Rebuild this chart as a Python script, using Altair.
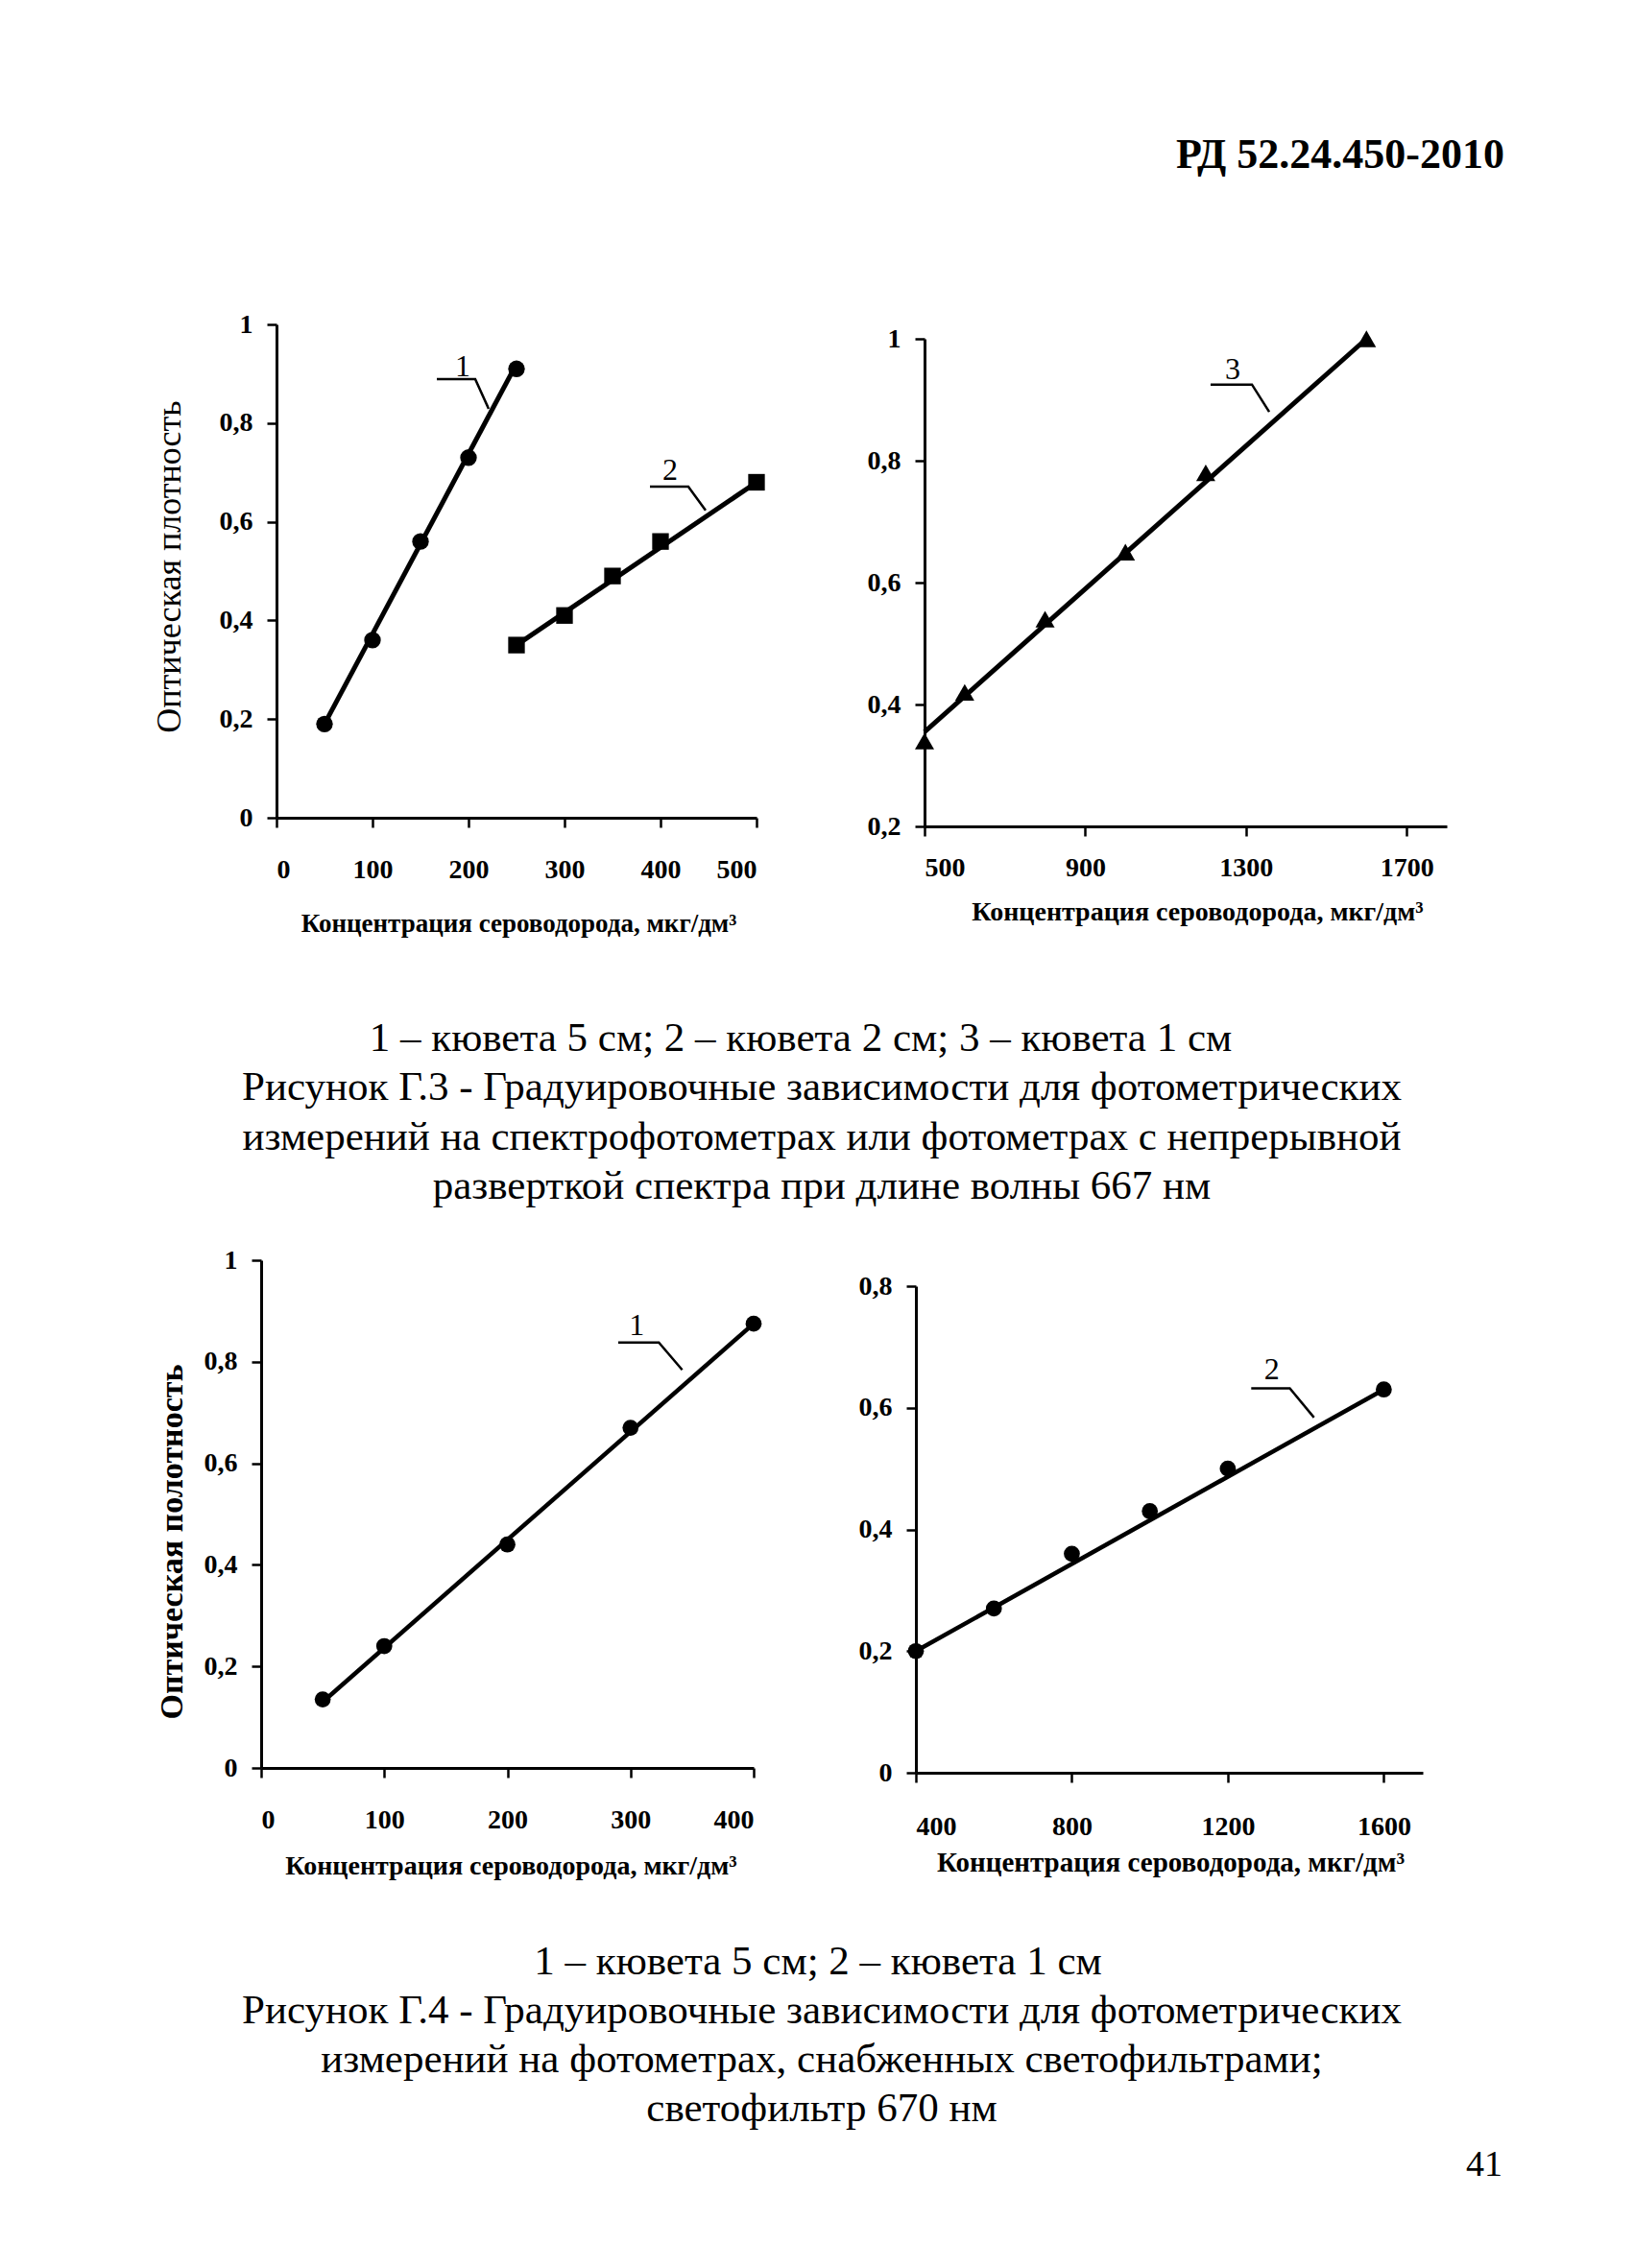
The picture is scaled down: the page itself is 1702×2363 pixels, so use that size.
import altair as alt
import pandas as pd

# ---------------- data ----------------
header_text = ["РД 52.24.450-2010"]
caption1 = [
    "1 – кювета 5 см; 2 – кювета 2 см; 3 – кювета 1 см",
    "Рисунок Г.3 - Градуировочные зависимости для фотометрических",
    "измерений на спектрофотометрах  или фотометрах с непрерывной",
    "разверткой спектра при длине волны 667 нм",
]
caption2 = [
    "1 – кювета 5 см; 2 – кювета 1 см",
    "Рисунок Г.4 - Градуировочные зависимости для фотометрических",
    "измерений на фотометрах, снабженных светофильтрами;",
    "светофильтр 670 нм",
]
page_number = ["41"]

x_title = "Концентрация сероводорода, мкг/дм³"
y_title_top = "Оптическая плотность"
y_title_bottom = "Оптическая полотность"

# top-left (Fig. G.3), curves 1 and 2
tl1_x = [50, 100, 150, 200, 250]
tl1_y = [0.19, 0.36, 0.56, 0.73, 0.91]
tl1_line_x = [50, 250]
tl1_line_y = [0.19, 0.92]
tl2_x = [250, 300, 350, 400, 500]
tl2_y = [0.35, 0.41, 0.49, 0.56, 0.68]
tl2_line_x = [250, 500]
tl2_line_y = [0.35, 0.68]
tl_lab = ["1", "2"]
tl_lab_x = [194, 410]
tl_lab_y = [0.915, 0.705]
tl_lead_g = [0, 0, 0, 1, 1, 1]
tl_lead_x = [167, 207, 221, 389, 429, 447]
tl_lead_y = [0.889, 0.889, 0.829, 0.671, 0.671, 0.623]

# top-right (Fig. G.3), curve 3
tr_x = [500, 600, 800, 1000, 1200, 1600]
tr_y = [0.34, 0.42, 0.54, 0.65, 0.78, 1.0]
tr_line_x = [500, 1600]
tr_line_y = [0.355, 1.0]
tr_lab = ["3"]
tr_lab_x = [1267]
tr_lab_y = [0.950]
tr_lead_x = [1212, 1315, 1358]
tr_lead_y = [0.925, 0.925, 0.880]

# bottom-left (Fig. G.4), curve 1
bl_x = [50, 100, 200, 300, 400]
bl_y = [0.135, 0.24, 0.44, 0.67, 0.875]
bl_line_x = [50, 400]
bl_line_y = [0.13, 0.875]
bl_lab = ["1"]
bl_lab_x = [305]
bl_lab_y = [0.872]
bl_lead_x = [290, 323, 342]
bl_lead_y = [0.838, 0.838, 0.784]

# bottom-right (Fig. G.4), curve 2
br_x = [400, 600, 800, 1000, 1200, 1600]
br_y = [0.20, 0.27, 0.36, 0.43, 0.50, 0.63]
br_line_x = [400, 1600]
br_line_y = [0.20, 0.63]
br_lab = ["2"]
br_lab_x = [1313]
br_lab_y = [0.662]
br_lead_x = [1260, 1359, 1421]
br_lead_y = [0.632, 0.632, 0.584]

FONT = "Liberation Serif"
LABEL_EXPR = "replace(datum.label, '.', ',')"

# column widths and row heights of the page grid
C0, C1, C2, C3 = 263, 516, 166, 553
RA, RB, RC, RD, RE = 329, 523, 452, 534, 470


def spacer(w, h):
    return (
        alt.Chart(pd.DataFrame({"s": [0]}))
        .mark_point(opacity=0)
        .encode(x=alt.value(w / 2), y=alt.value(h / 2))
        .properties(width=w, height=h)
    )


def panel(series, lines, lab, lab_x, lab_y, lead_x, lead_y, lead_g,
          xdom, xticks, ydom, yticks, w, h, xr, yr,
          x_title_x, x_title_y, x_lab_pad,
          y_title, y_title_x, y_title_y, y_title_size, y_title_weight,
          x_title_size, line_w):
    X = alt.X(
        "x:Q",
        scale=alt.Scale(domain=xdom, nice=False, zero=False, range=xr),
        axis=alt.Axis(
            values=xticks, format="d", title=x_title,
            titleX=x_title_x, titleY=x_title_y, titleBaseline="middle",
            titleAlign="center", titleFontSize=x_title_size,
            titleFontWeight="bold", labelPadding=x_lab_pad,
            offset=yr[0] - h,
        ),
    )
    Y = alt.Y(
        "y:Q",
        scale=alt.Scale(domain=ydom, nice=False, zero=False, range=yr),
        axis=alt.Axis(
            values=yticks, format=".1~f", labelExpr=LABEL_EXPR,
            title=y_title, titleX=y_title_x, titleY=y_title_y,
            titleAngle=270, titleBaseline="middle", titleAlign="center",
            titleFontSize=y_title_size, titleFontWeight=y_title_weight,
            labelPadding=15, offset=-xr[0],
        ),
    )
    layers = []
    for lx, ly in lines:
        layers.append(
            alt.Chart(pd.DataFrame({"x": lx, "y": ly}))
            .mark_line(color="black", strokeWidth=line_w)
            .encode(x=X, y=Y)
        )
    for sx, sy, shape, size in series:
        layers.append(
            alt.Chart(pd.DataFrame({"x": sx, "y": sy}))
            .mark_point(shape=shape, size=size, filled=True, color="black", opacity=1)
            .encode(x=X, y=Y)
        )
    layers.append(
        alt.Chart(pd.DataFrame({"x": lead_x, "y": lead_y, "g": lead_g,
                                "o": list(range(len(lead_x)))}))
        .mark_line(color="black", strokeWidth=2.5)
        .encode(x=X, y=Y, detail="g:N", order="o:Q")
    )
    layers.append(
        alt.Chart(pd.DataFrame({"x": lab_x, "y": lab_y, "t": lab}))
        .mark_text(font=FONT, fontSize=32, color="black", baseline="middle")
        .encode(x=X, y=Y, text="t:N")
    )
    return alt.layer(*layers).properties(width=w, height=h)


tl = panel(
    [(tl1_x, tl1_y, "circle", 300), (tl2_x, tl2_y, "square", 300)],
    [(tl1_line_x, tl1_line_y), (tl2_line_x, tl2_line_y)],
    tl_lab, tl_lab_x, tl_lab_y, tl_lead_x, tl_lead_y, tl_lead_g,
    [0, 500], [0, 100, 200, 300, 400, 500], [0, 1], [0, 0.2, 0.4, 0.6, 0.8, 1.0],
    C1, RB, [16, 516], [514, 0], 268, 110, 30,
    y_title_top, -112, 252, 36, "normal", 27, 5,
)
tr = panel(
    [(tr_x, tr_y, "triangle-up", 400)],
    [(tr_line_x, tr_line_y)],
    tr_lab, tr_lab_x, tr_lab_y, tr_lead_x, tr_lead_y, [0, 0, 0],
    [500, 1800], [500, 900, 1300, 1700], [0.2, 1], [0.2, 0.4, 0.6, 0.8, 1.0],
    C3, RB, [9, 553], [523, 15], 293, 89, 19,
    "", 0, 0, 30, "normal", 28, 5,
)
bl = panel(
    [(bl_x, bl_y, "circle", 280)],
    [(bl_line_x, bl_line_y)],
    bl_lab, bl_lab_x, bl_lab_y, bl_lead_x, bl_lead_y, [0, 0, 0],
    [0, 400], [0, 100, 200, 300, 400], [0, 1], [0, 0.2, 0.4, 0.6, 0.8, 1.0],
    C1, RD, [0, 513], [529, 0], 260, 102, 30,
    y_title_bottom, -93, 293, 34, "bold", 28, 4.5,
)
br = panel(
    [(br_x, br_y, "circle", 280)],
    [(br_line_x, br_line_y)],
    br_lab, br_lab_x, br_lab_y, br_lead_x, br_lead_y, [0, 0, 0],
    [400, 1700], [400, 800, 1200, 1600], [0, 0.8], [0, 0.2, 0.4, 0.6, 0.8],
    C3, RD, [0, 528], [534, 27], 265, 93, 32,
    "", 0, 0, 30, "normal", 29, 4.5,
)

CAP_SIZE = 43

header = (
    alt.Chart(pd.DataFrame({"t": header_text}))
    .mark_text(font=FONT, fontSize=44, fontWeight="bold", align="right",
               baseline="middle", color="black")
    .encode(x=alt.value(1558), y=alt.value(153), text="t:N")
    .properties(width=C0, height=RA)
)


def caption_layer(lines, y0, y1, xs):
    return (
        alt.Chart(pd.DataFrame({"t": lines, "i": list(range(len(lines))), "cx": xs}))
        .mark_text(font=FONT, fontSize=CAP_SIZE, align="center", baseline="middle",
                   color="black")
        .encode(
            x=alt.X("cx:Q", scale=alt.Scale(domain=[0, 1000], range=[0, 1000]), axis=None),
            y=alt.Y("i:Q", scale=alt.Scale(domain=[0, len(lines) - 1], range=[y0, y1]),
                    axis=None),
            text="t:N",
        )
    )


cap1 = caption_layer(caption1, 221, 375, [825, 847, 847, 847]).properties(width=C0, height=RC)
pnum = (
    alt.Chart(pd.DataFrame({"t": page_number}))
    .mark_text(font=FONT, fontSize=38, align="right", baseline="middle", color="black")
    .encode(x=alt.value(1556), y=alt.value(409), text="t:N")
)
cap2 = alt.layer(caption_layer(caption2, 197, 350, [843, 847, 847, 847]), pnum).properties(
    width=C0, height=RE)

cells = [
    # row A: header
    header, spacer(C1, RA), spacer(C2, RA), spacer(C3, RA),
    # row B: Fig G.3 panels
    spacer(C0, RB), tl, spacer(C2, RB), tr,
    # row C: caption 1
    cap1, spacer(C1, RC), spacer(C2, RC), spacer(C3, RC),
    # row D: Fig G.4 panels
    spacer(C0, RD), bl, spacer(C2, RD), br,
    # row E: caption 2
    cap2,
]

chart = (
    alt.concat(*cells, columns=4, align="none", bounds="flush", spacing=0)
    .properties(padding=0)
    .configure_view(stroke="transparent")
    .configure_axis(
        domainColor="black", tickColor="black", domainWidth=3, tickWidth=2.5,
        tickSize=10, grid=False, labelFont=FONT, labelFontWeight="bold",
        labelFontSize=28, labelColor="black", titleColor="black", titleFont=FONT,
    )
)

chart.save("out.html", embed_options={"renderer": "svg", "actions": False})
